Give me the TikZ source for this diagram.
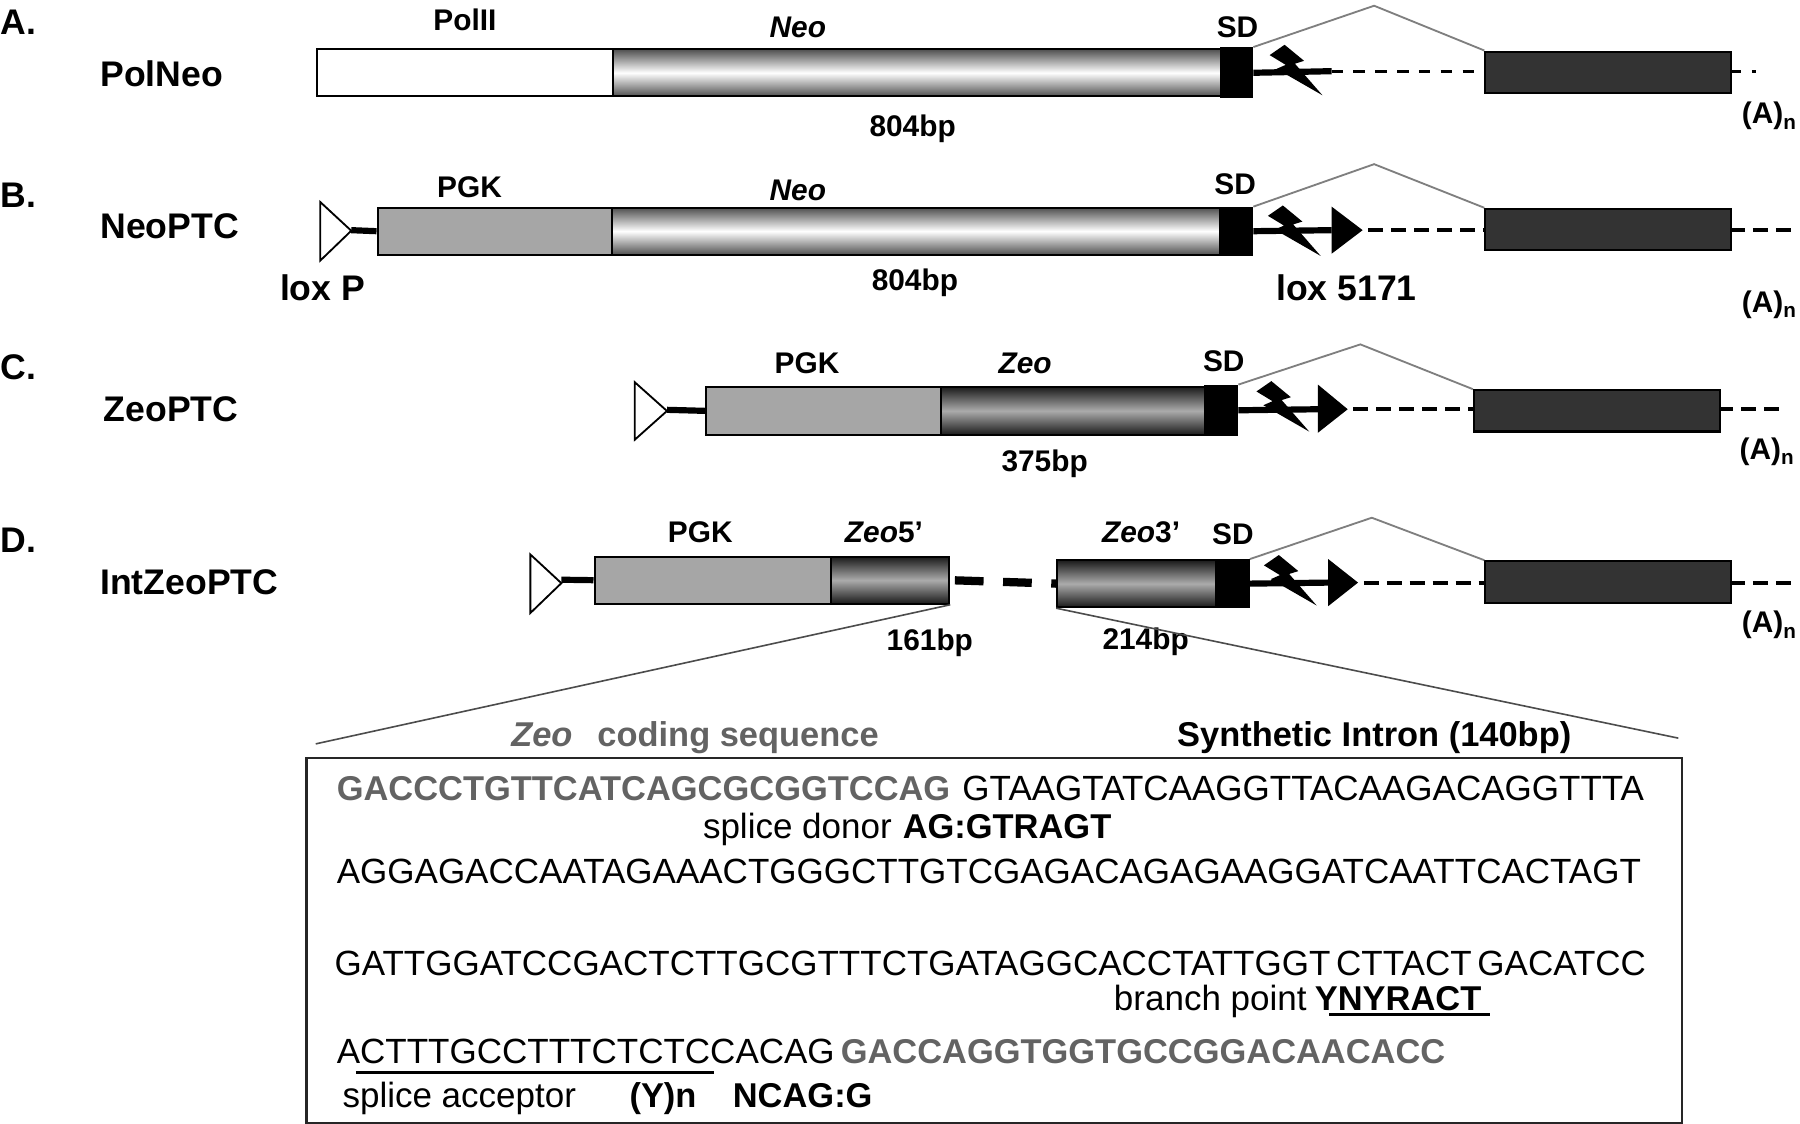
\documentclass[tikz,border=0pt]{standalone}
\usepackage{fontspec}
\setmainfont{Liberation Sans}
\definecolor{pgk}{HTML}{A6A6A6}
\definecolor{exon}{HTML}{333333}
\definecolor{seqgray}{HTML}{636363}
\definecolor{intron}{HTML}{7F7F7F}
\definecolor{neoedge}{HTML}{505050}
\definecolor{zeoedge}{HTML}{1A1A1A}
\definecolor{zeomid}{HTML}{ABABAB}
\newcommand\mybox[6]{\node[#2,anchor=north west,inner sep=0pt,minimum width={(#5-#3)*0.5pt},minimum height={(#6-#4)*0.5pt}] (#1) at (#3,#4) {};}
\newcommand\mybolt[2]{\fill[black,shift={(#1,#2)}] (0,9) -- (13,0) -- (30,14) -- (22,16.5) -- (46,44) -- (6,21) -- (14,17.5) -- cycle;}
\newcommand\polyA{(A)\raisebox{-0.35ex}{\fontsize{9}{10}\selectfont n}}
\begin{document}
\begin{tikzpicture}[x=0.5pt,y=-0.5pt,
 lab/.style={font=\fontsize{15.5}{18}\selectfont\bfseries,inner sep=0pt,anchor=base west},
 labc/.style={font=\fontsize{15.5}{18}\selectfont\bfseries,inner sep=0pt,anchor=base},
 sub/.style={font=\fontsize{13}{15}\selectfont\bfseries,inner sep=0pt,anchor=base},
 subi/.style={sub,font=\fontsize{13}{15}\selectfont\bfseries\itshape},
 seq/.style={font=\fontsize{15.25}{18}\selectfont,inner sep=0pt,anchor=base west},
 seqb/.style={seq,font=\fontsize{15}{18}\selectfont\bfseries},
 seqg/.style={seqb,text=seqgray},
 seqgi/.style={seq,font=\fontsize{15}{18}\selectfont\bfseries\itshape,text=seqgray},
 boxline/.style={draw=black,line width=0.9pt},
 whitebox/.style={boxline,fill=white},
 pgkbox/.style={boxline,fill=pgk},
 neobox/.style={boxline,top color=neoedge,bottom color=neoedge,middle color=white},
 zeobox/.style={boxline,top color=zeoedge,bottom color=zeoedge,middle color=zeomid},
 sdbox/.style={draw=black,fill=black,line width=0.9pt},
 exonbox/.style={boxline,fill=exon},
 framebox/.style={draw=black!85,line width=1pt},
 conn/.style={line width=2.7pt},
 dashB/.style={line width=1.7pt,dash pattern=on 6.5pt off 3.5pt},
 dashA/.style={line width=1.2pt,dash pattern=on 5pt off 4.5pt},
 intronl/.style={draw=intron,line width=0.8pt},
 zoomline/.style={draw=black!70,line width=0.7pt},
 lox/.style={draw=black,fill=white,line width=0.8pt},
 uline/.style={line width=1.2pt},
]
\useasboundingbox (0,0) rectangle (1568,979);

% ---------------- Row A ----------------
\node[lab] (aLet) at (0,30) {A.};
\node[lab] (aName) at (87,75) {PolNeo};
\mybox{aP}{whitebox}{275}{42}{533}{83}
\mybox{aN}{neobox}{533}{42}{1063}{83}
\mybox{aS}{sdbox}{1063}{41}{1090}{84}
\coordinate (aL) at (1160,62);
\coordinate (aEnd) at (1530,62);
\draw[dashA] (aL) -- (1293,62);
\draw[dashA] (1507,62) -- (aEnd);
\draw[conn] (aS.east) -- (aL);
\mybox{aE}{exonbox}{1293}{44}{1507}{80}
\mybolt{1106}{39}
\coordinate (aPk) at (1197,5);
\draw[intronl] (aS.north east) -- (aPk) -- (aE.north west);
\node[sub] (aPolII) at (405,27) {PolII};
\node[subi] (aNeo) at (695,33) {Neo};
\node[sub] (aSD) at (1078,33) {SD};
\node[sub] (aBp) at (795,119) {804bp};
\node[sub,anchor=base west] (aA) at (1517,108) {\polyA};

% ---------------- Row B ----------------
\node[lab] (bLet) at (0,181) {B.};
\node[lab] (bName) at (87,208) {NeoPTC};
\draw[lox] (279,176) -- (279,227) -- (306,201) -- cycle;
\coordinate (bT) at (306,200.5);
\mybox{bP}{pgkbox}{328}{180}{532}{221}
\mybox{bN}{neobox}{532}{180}{1062}{221}
\mybox{bS}{sdbox}{1062}{180}{1090}{221}
\draw[conn] (bT) -- (bP.west);
\coordinate (bA) at (1160,200.5);
\coordinate (bTip) at (1187,200.5);
\coordinate (bEnd) at (1562,200.5);
\draw[dashB] (1192,200.5) -- (1293,200.5);
\draw[dashB] (1507,200.5) -- (bEnd);
\draw[conn] (bS.east) -- (bA);
\fill (1160,180) -- (bTip) -- (1160,221) -- cycle;
\mybox{bE}{exonbox}{1293}{181}{1507}{217}
\mybolt{1104.5}{179}
\coordinate (bPk) at (1197,143);
\draw[intronl] (bS.north east) -- (bPk) -- (bE.north west);
\node[sub] (bPGK) at (409,172) {PGK};
\node[subi] (bNeo) at (695,175) {Neo};
\node[sub] (bSD) at (1076,169) {SD};
\node[labc] (bLoxP) at (281,262) {lox P};
\node[sub] (bBp) at (797,253) {804bp};
\node[labc] (bLox5) at (1173,262) {lox 5171};
\node[sub,anchor=base west] (bAn) at (1517,272) {\polyA};

% ---------------- Row C ----------------
\node[lab] (cLet) at (0,331) {C.};
\node[lab] (cName) at (90,367) {ZeoPTC};
\draw[lox] (553,333) -- (553,383) -- (581,358) -- cycle;
\coordinate (cT) at (581,357);
\mybox{cP}{pgkbox}{614}{336}{819}{378}
\mybox{cZ}{zeobox}{819}{336}{1049}{378}
\mybox{cS}{sdbox}{1049}{335}{1077}{378}
\draw[conn] (cT) -- (cP.west);
\coordinate (cA) at (1148,356.5);
\coordinate (cTip) at (1174,356.5);
\coordinate (cEnd) at (1550,356.5);
\draw[dashB] (1179,356.5) -- (1283,356.5);
\draw[dashB] (1497,356.5) -- (cEnd);
\draw[conn] (cS.east) -- (cA);
\fill (1148,335) -- (cTip) -- (1148,377) -- cycle;
\mybox{cE}{exonbox}{1283}{339}{1497}{375}
\mybolt{1094.5}{332}
\coordinate (cPk) at (1185,300);
\draw[intronl] (cS.north east) -- (cPk) -- (cE.north west);
\node[sub] (cPGK) at (703,325) {PGK};
\node[subi] (cZeo) at (893,325) {Zeo};
\node[sub] (cSD) at (1066,324) {SD};
\node[sub] (cBp) at (910,411) {375bp};
\node[sub,anchor=base west] (cAn) at (1515,400) {\polyA};

% ---------------- Row D ----------------
\node[lab] (dLet) at (0,481) {D.};
\node[lab] (dName) at (87,518) {IntZeoPTC};
\draw[lox] (462,483) -- (462,534) -- (489,508) -- cycle;
\coordinate (dT) at (489,505);
\mybox{dP}{pgkbox}{517}{484}{723}{525}
\mybox{dZ5}{zeobox}{723}{484}{826}{525}
\mybox{dZ3}{zeobox}{920}{487}{1058}{528}
\mybox{dS}{sdbox}{1058}{487}{1087}{528}
\draw[conn] (dT) -- (dP.west);
\draw[line width=3.6pt,dash pattern=on 12.5pt off 8.5pt,dash phase=-2pt] (dZ5.east) -- (dZ3.west);
\coordinate (dA) at (1157,507.5);
\coordinate (dTip) at (1183,507.5);
\coordinate (dEnd) at (1562,507.5);
\draw[dashB] (1188,507.5) -- (1293,507.5);
\draw[dashB] (1507,507.5) -- (dEnd);
\draw[conn] (dS.east) -- (dA);
\fill (1157,487) -- (dTip) -- (1157,528) -- cycle;
\mybox{dE}{exonbox}{1293}{488}{1507}{524}
\mybolt{1101}{483.5}
\coordinate (dPk) at (1195,451);
\draw[intronl] (dS.north east) -- (dPk) -- (dE.north west);
\node[sub] (dPGK) at (610,473) {PGK};
\node[sub] (dZ5l) at (770,473) {\itshape Zeo\upshape 5'};
\node[sub] (dZ3l) at (994,473) {\itshape Zeo\upshape 3'};
\node[sub] (dSD) at (1074,474) {SD};
\node[sub] (dBp1) at (810,567) {161bp};
\node[sub] (dBp2) at (998,566) {214bp};
\node[sub,anchor=base west] (dAn) at (1517,551) {\polyA};

% ---------------- Zoom panel ----------------
\mybox{frame}{framebox}{266}{659}{1464}{977}
\coordinate (zl) at (275,648);
\coordinate (zr) at (1462,643);
\draw[zoomline] (dZ5.south east) -- (zl);
\draw[zoomline] (dZ3.south west) -- (zr);

\node[seqgi] (tZeo) at (445,650) {Zeo};
\node[seqg] (tCod) at (520,650) {coding sequence};
\node[seqb] (tSyn) at (1025,650) {Synthetic Intron (140bp)};

\node[seqg] (s1a) at (293,697) {GACCCTGTTCATCAGCGCGGTCCAG};
\node[seq] (s1b) at (838,697) {GTAAGTATCAAGGTTACAAGACAGGTTTA};
\node[seq] (s2a) at (612,730) {splice donor};
\node[seqb] (s2b) at (786,730) {AG:GTRAGT};
\node[seq] (s3) at (293,770) {AGGAGACCAATAGAAACTGGGCTTGTCGAGACAGAGAAGGATCAATTCACTAGT};
\node[seq] (s4) at (291,850) {GATTGGATCCGACTCTTGCGTTTCTGATAGGCACCTATTGGT\kern2.5pt CTTACT\kern2.5pt GACATCC};
\node[seq] (s5a) at (970,880) {branch point};
\node[seqb] (s5b) at (1145,880) {YNYRACT};
\draw[uline] (1158,884) -- (1298,884);
\node[seq] (s6a) at (293,926) {ACTTTGCCTTTCTCTCCACAG};
\node[seqg] (s6b) at (732,926) {GACCAGGTGGTGCCGGACAACACC};
\draw[uline] (310,934) -- (622,934);
\node[seq] (s7a) at (298,965) {splice acceptor};
\node[seqb] (s7b) at (548,965) {(Y)n};
\node[seqb] (s7c) at (638,965) {NCAG:G};
\end{tikzpicture}
\end{document}
